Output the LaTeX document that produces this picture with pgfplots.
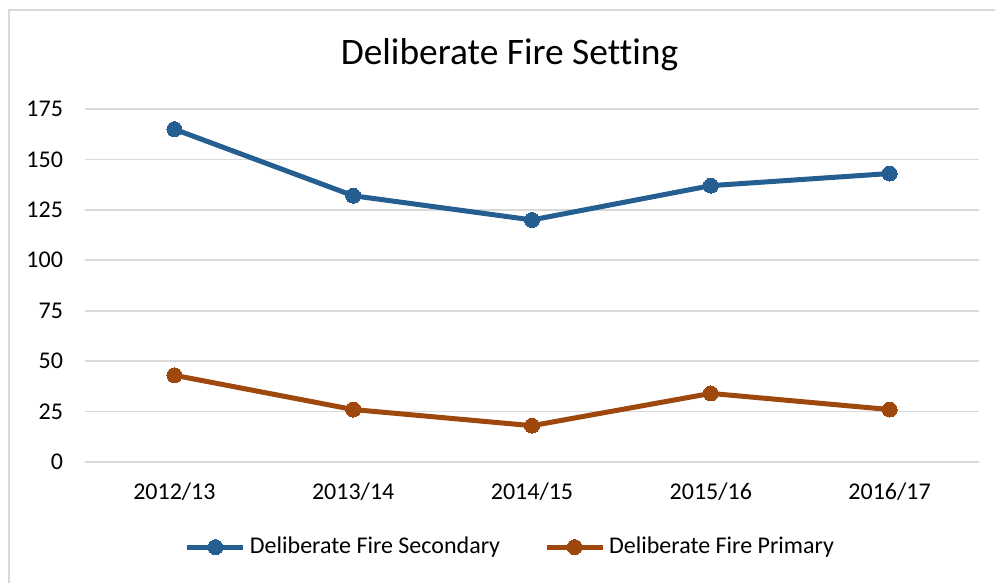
\documentclass[border=0pt]{standalone}
\usepackage{fontspec}
\setmainfont{Carlito}[Ligatures=NoCommon]
\usepackage{pgfplots}
\pgfplotsset{compat=1.18}
\definecolor{serblue}{HTML}{255E91}
\definecolor{serorange}{HTML}{9E480E}
\definecolor{gridgray}{HTML}{D9D9D9}
\begin{document}
\begin{tikzpicture}[x=1pt,y=1pt]
\useasboundingbox (0,0) rectangle (497.5,291.5);
\draw[gridgray,line width=1pt] (4.5,0) -- (4.5,286.5) -- (497.5,286.5);
\node[font=\fontsize{18.7}{22}\selectfont] at (254.75,264) {Deliberate Fire Setting};
\begin{axis}[
  at={(42.5pt,60.5pt)}, anchor=south west,
  scale only axis, width=447pt, height=176.5pt,
  xmin=-0.5, xmax=4.5, ymin=0, ymax=175,
  xtick={0,1,2,3,4},
  xticklabels={2012/13,2013/14,2014/15,2015/16,2016/17},
  ytick={0,25,50,75,100,125,150,175},
  axis line style={draw=none},
  major tick length=0pt,
  ymajorgrids, grid style={gridgray,line width=0.9pt},
  tick label style={font=\fontsize{12}{14}\selectfont},
  /pgf/number format/assume math mode=true,
  yticklabel style={xshift=-7.5pt},
  xticklabel style={yshift=-7pt},
  legend style={at={(0.477,-0.241)}, anchor=center, draw=none, fill=none,
    legend columns=2, font=\fontsize{12}{14}\selectfont,
    /tikz/every even column/.append style={column sep=20pt}},
  legend cell align=left,
  legend image code/.code={\draw[#1,mark repeat=2,mark phase=2] plot coordinates {(0pt,0pt) (14pt,0pt) (28pt,0pt)};},
]
\addplot[serblue, line width=2.5pt, mark=*, mark size=3.75pt, mark options={line width=0pt}] coordinates {(0,165) (1,132) (2,120) (3,137) (4,143)};
\addlegendentry{Deliberate Fire Secondary}
\addplot[serorange, line width=2.5pt, mark=*, mark size=3.75pt, mark options={line width=0pt}] coordinates {(0,43) (1,26) (2,18) (3,34) (4,26)};
\addlegendentry{Deliberate Fire Primary}
\end{axis}
\end{tikzpicture}
\end{document}
